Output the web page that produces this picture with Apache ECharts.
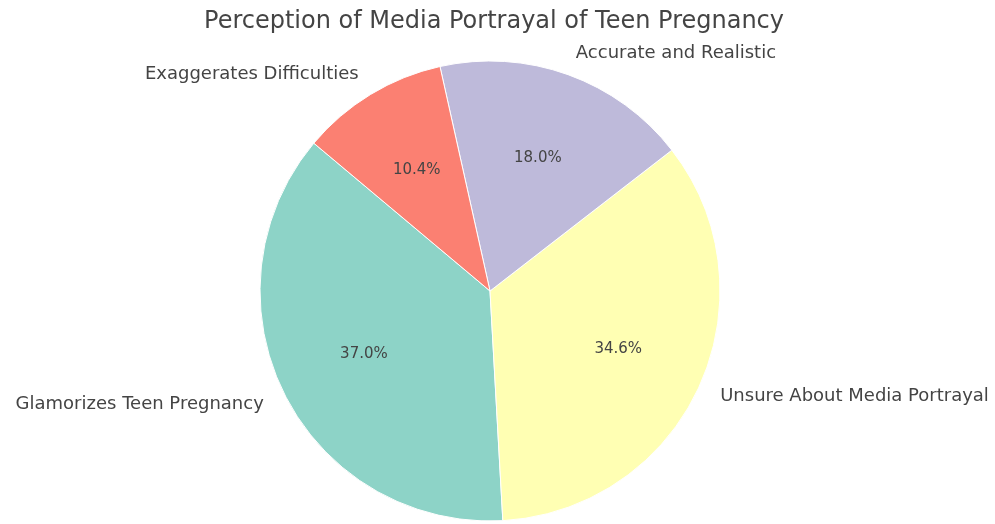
<!DOCTYPE html>
<html>
<head>
<meta charset="utf-8">
<script src="https://cdn.jsdelivr.net/npm/echarts@6/dist/echarts.min.js"></script>
<style>
  html, body { margin: 0; padding: 0; background: #ffffff; }
  #chart { width: 995px; height: 524px; }
</style>
</head>
<body>
<div id="chart"></div>
<script>
// Survey responses: how teens see pregnancy portrayed in the media (percent)
const categories = [
  'Glamorizes Teen Pregnancy',
  'Unsure About Media Portrayal',
  'Accurate and Realistic',
  'Exaggerates Difficulties'
];
const shares = [37.0, 34.6, 18.0, 10.4];
const colors = ['#8dd3c7', '#ffffb3', '#bebada', '#fb8072'];
const titleText = 'Perception of Media Portrayal of Teen Pregnancy';

const R = 230;
const center = [490, 291];
const font = 'DejaVu Sans, sans-serif';

const data = categories.map((name, i) => ({
  name: name,
  value: shares[i],
  itemStyle: { color: colors[i] }
}));

const chart = echarts.init(document.getElementById('chart'), null, { renderer: 'canvas' });
chart.setOption({
  animation: false,
  backgroundColor: '#ffffff',
  title: {
    text: titleText,
    left: 489,
    textAlign: 'center',
    top: 5,
    textStyle: { fontFamily: font, fontSize: 24, fontWeight: 'normal', color: '#444444' }
  },
  series: [
    {
      // wedges with category names just outside the rim, at 1.1 R
      type: 'pie',
      center: center,
      radius: [0, R],
      startAngle: 140,
      clockwise: false,
      avoidLabelOverlap: false,
      silent: true,
      itemStyle: { borderColor: '#ffffff', borderWidth: 1 },
      label: {
        show: true,
        position: 'outside',
        formatter: '{b}',
        distanceToLabelLine: 0,
        fontFamily: font,
        fontSize: 18,
        color: '#444444'
      },
      labelLine: { show: false, length: R * 0.1, length2: 0 },
      data: data
    },
    {
      // transparent overlay carrying the percentage labels at 0.6 R
      type: 'pie',
      center: center,
      radius: [R * 0.2, R],
      startAngle: 140,
      clockwise: false,
      silent: true,
      itemStyle: { color: 'rgba(0,0,0,0)' },
      label: {
        show: true,
        position: 'inside',
        formatter: p => p.value.toFixed(1) + '%',
        fontFamily: font,
        fontSize: 15,
        color: '#444444'
      },
      labelLine: { show: false },
      data: categories.map((name, i) => ({ name: name, value: shares[i] }))
    }
  ]
});
</script>
</body>
</html>
